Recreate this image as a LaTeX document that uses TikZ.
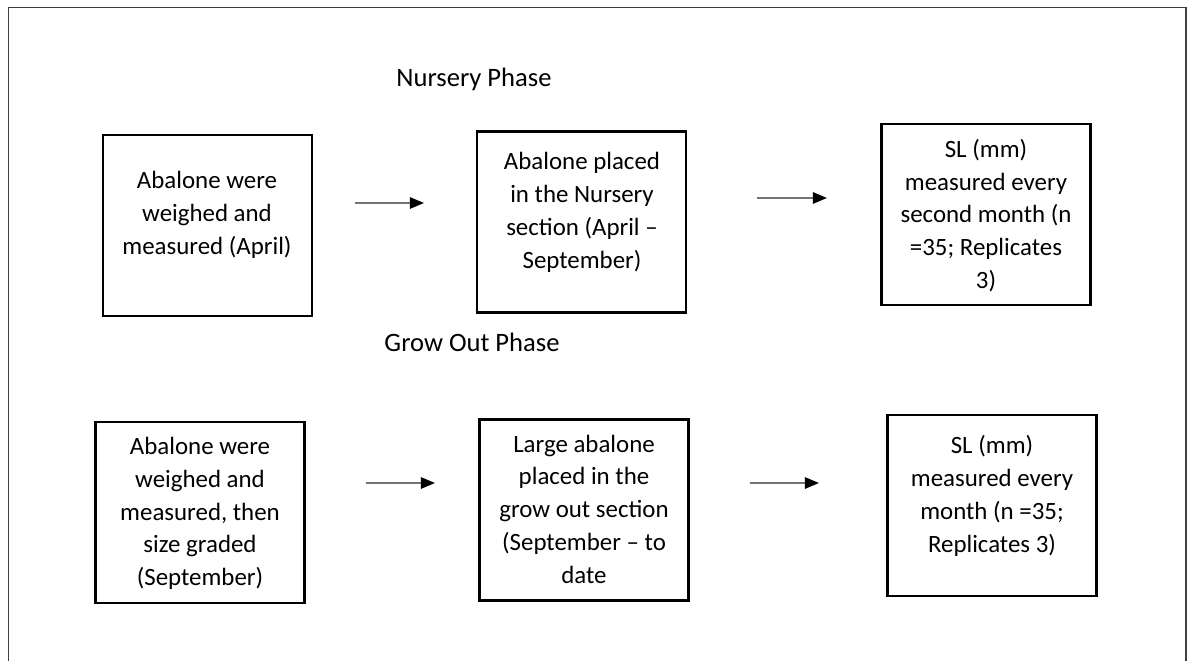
\documentclass[tikz,border=0pt]{standalone}
\usepackage{fontspec}
\setmainfont{Carlito}
\usetikzlibrary{arrows.meta}

\begin{document}
\begin{tikzpicture}[x=0.025cm,y=-0.025cm,
  box/.style={draw=black, line width=2pt, minimum width=5.225cm, minimum height=4.525cm},
  txt/.style={align=center, inner sep=0pt, font=\fontsize{17.7}{23.3}\selectfont},
  head/.style={inner sep=0pt, font=\fontsize{18.9}{23.3}\selectfont},
  flow/.style={draw=black!55, line width=1.4pt, -{Triangle[length=10pt,width=8pt,color=black]}}]
\useasboundingbox (0,0) rectangle (1188,661);
\draw [black!75, line width=1.4pt] (8.5,661) -- (8.5,7.5) -- (1186,7.5) -- (1186,661);

% Nursery phase
\node [head] (nurs) at (474,79) {Nursery Phase};
\node [box] (boxA) at (207.5,225.5) {};
\node [txt] (txtA) at (207,215) {Abalone were\\weighed and\\measured (April)};
\node [box] (boxB) at (581.5,222) {};
\node [txt] (txtB) at (582,212.5) {Abalone placed\\in the Nursery\\section (April --\\September)};
\node [box] (boxC) at (986,214.5) {};
\node [txt] (txtC) at (986,215.5) {SL (mm)\\measured every\\second month (n\\=35; Replicates\\3)};

\coordinate (a1s) at (355,203);
\coordinate (a1e) at (424,203);
\coordinate (a2s) at (757,198);
\coordinate (a2e) at (827,198);
\draw [flow] (a1s) -- (a1e);
\draw [flow] (a2s) -- (a2e);

% Grow out phase
\node [head] (grow) at (472,342) {Grow Out Phase};
\node [box] (boxD) at (200,512.5) {};
\node [txt] (txtD) at (200,513.5) {Abalone were\\weighed and\\measured, then\\size graded\\(September)};
\node [box] (boxE) at (584,510) {};
\node [txt] (txtE) at (584,509) {Large abalone\\placed in the\\grow out section\\(September -- to\\date};
\node [box] (boxF) at (992,505.5) {};
\node [txt] (txtF) at (992,496) {SL (mm)\\measured every\\month (n =35;\\Replicates 3)};

\coordinate (a3s) at (366,483);
\coordinate (a3e) at (435,483);
\coordinate (a4s) at (750,483);
\coordinate (a4e) at (819,483);
\draw [flow] (a3s) -- (a3e);
\draw [flow] (a4s) -- (a4e);

\end{tikzpicture}
\end{document}
